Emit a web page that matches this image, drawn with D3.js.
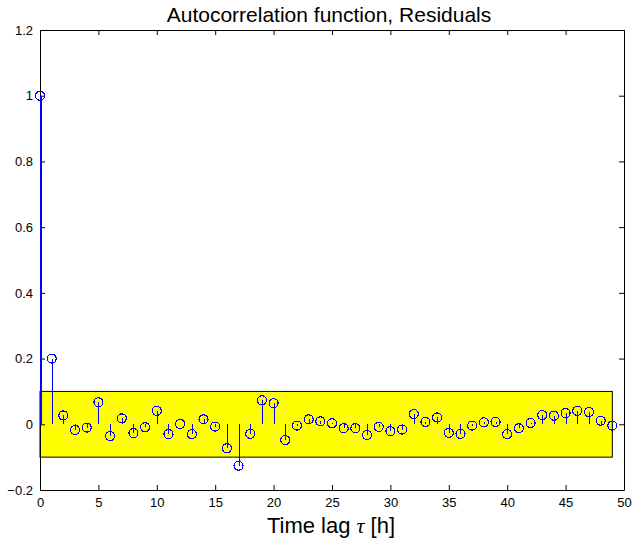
<!DOCTYPE html>
<html>
<head>
<meta charset="utf-8">
<script src="https://cdn.jsdelivr.net/npm/d3@7"></script>
<style>
  body { margin: 0; background: #fff; }
  svg { display: block; font-family: "Liberation Sans", Arial, sans-serif; }
</style>
</head>
<body>
<svg id="chart" width="632" height="542"></svg>
<script>
// autocorrelation values, lag 0..49
const lags = d3.range(0, 50)
const acf = [1.0, 0.2, 0.027, -0.017, -0.010, 0.067, -0.036, 0.018, -0.027, -0.009,
    0.041, -0.030, 0.001, -0.030, 0.015, -0.007, -0.073, -0.126, -0.029, 0.073,
    0.064, -0.048, -0.004, 0.015, 0.009, 0.003, -0.012, -0.012, -0.033, -0.008,
    -0.021, -0.016, 0.031, 0.007, 0.021, -0.026, -0.029, -0.004, 0.006, 0.007,
    -0.030, -0.012, 0.004, 0.028, 0.026, 0.034, 0.041, 0.037, 0.011, -0.004]
const confBand = [-0.1, 0.1]
const bandLags = [0, 49]
const xTicks = d3.range(0, 51, 5)
const yTicks = [-0.2, 0, 0.2, 0.4, 0.6, 0.8, 1, 1.2]
const title = "Autocorrelation function, Residuals"

const svg = d3.select("#chart")
const margin = {top: 30, right: 8, bottom: 52, left: 40}
const width = 632, height = 542

const xScale = d3.scaleLinear().domain([0, 50]).range([margin.left, width - margin.right])
const yScale = d3.scaleLinear().domain([-0.2, 1.2]).range([height - margin.bottom, margin.top])

// confidence band
svg.append("rect")
    .attr("x", xScale(bandLags[0]))
    .attr("y", yScale(confBand[1]))
    .attr("width", xScale(bandLags[1]) - xScale(bandLags[0]))
    .attr("height", yScale(confBand[0]) - yScale(confBand[1]))
    .attr("fill", "#ffff00")
    .attr("stroke", "#000")
    .attr("stroke-width", 1)

const data = lags.map((l, i) => [l, acf[i]])

// axes box with inward ticks
const xAxis = g => g
    .attr("transform", `translate(0,${yScale(-0.2)})`)
    .call(d3.axisBottom(xScale).tickValues(xTicks).tickSizeInner(-5).tickSizeOuter(0).tickPadding(8))
const yAxis = g => g
    .attr("transform", `translate(${margin.left},0)`)
    .call(d3.axisLeft(yScale).tickValues(yTicks).tickSizeInner(-5).tickSizeOuter(0).tickPadding(7)
        .tickFormat(d => d === 0 ? "0" : String(d).replace("-", "\u2212")))
const xTop = g => g
    .attr("transform", `translate(0,${yScale(1.2)})`)
    .call(d3.axisTop(xScale).tickValues(xTicks).tickSizeInner(-5).tickSizeOuter(0).tickFormat(""))
const yRight = g => g
    .attr("transform", `translate(${xScale(50)},0)`)
    .call(d3.axisRight(yScale).tickValues(yTicks).tickSizeInner(-5).tickSizeOuter(0).tickFormat(""))

for (const ax of [xAxis, yAxis, xTop, yRight]) {
    svg.append("g").call(ax)
        .call(g => g.selectAll("text").attr("font-size", 13).attr("fill", "#000")
            .style("font-family", "'Liberation Sans', Arial, sans-serif"))
        .call(g => g.select(".domain").attr("stroke", "#000"))
}

// stems
svg.append("g").selectAll("line")
    .data(data)
    .join("line")
    .attr("x1", d => Math.round(xScale(d[0])) + 0.5)
    .attr("x2", d => Math.round(xScale(d[0])) + 0.5)
    .attr("y1", yScale(0))
    .attr("y2", d => yScale(d[1]))
    .attr("stroke", "#0000ff")
    .attr("stroke-width", d => d[0] === 0 ? 2 : 1)
    .attr("shape-rendering", "crispEdges")

// stem markers
svg.append("g").selectAll("circle")
    .data(data)
    .join("circle")
    .attr("cx", d => xScale(d[0]))
    .attr("cy", d => yScale(d[1]))
    .attr("r", 4.5)
    .attr("fill", "none")
    .attr("stroke", "#0000ff")
    .attr("stroke-width", 1.2)
    .attr("shape-rendering", "crispEdges")

// title
svg.append("text")
    .attr("x", 329)
    .attr("y", 22)
    .attr("text-anchor", "middle")
    .attr("font-size", 21)
    .text(title)

// x label
const xl = svg.append("text")
    .attr("x", 331)
    .attr("y", 533)
    .attr("text-anchor", "middle")
    .attr("font-size", 22)
xl.append("tspan").text("Time lag ")
xl.append("tspan").attr("font-style", "italic").attr("font-family", "'Liberation Serif', serif").text("\u03c4")
xl.append("tspan").text(" [h]")
</script>
</body>
</html>
